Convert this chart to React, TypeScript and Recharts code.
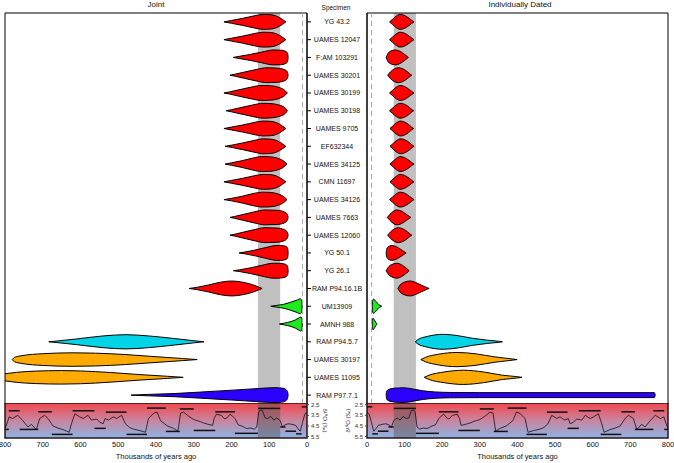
import React from 'react';
import { ComposedChart, Area, Line, XAxis, YAxis, ReferenceArea, ReferenceLine, Label } from 'recharts';

type Pt = [number, number];

const specimens = [
  'YG 43.2', 'UAMES 12047', 'F:AM 103291', 'UAMES 30201', 'UAMES 30199', 'UAMES 30198',
  'UAMES 9705', 'EF632344', 'UAMES 34125', 'CMN 11697', 'UAMES 34126', 'UAMES 7663',
  'UAMES 12060', 'YG 50.1', 'YG 26.1', 'RAM P94.16.1B', 'UM13909', 'AMNH 988',
  'RAM P94.5.7', 'UAMES 30197', 'UAMES 11095', 'RAM P97.7.1',
];
const rowIdx = specimens.map((_, i) => i);

const RED = '#ff0000';
const GREEN = '#1eea1e';
const CYAN = '#00d4e6';
const ORANGE = '#ffaa00';
const BLUE = '#2b00ff';
const rowColors = [
  RED, RED, RED, RED, RED, RED, RED, RED, RED, RED, RED, RED, RED, RED, RED, RED,
  GREEN, GREEN, CYAN, ORANGE, ORANGE, BLUE,
];

// [age (ka), half width in rows]
const jointShapes: Pt[][] = [
  [[56, 0], [65, 0.14], [80, 0.32], [100, 0.41], [116, 0.42], [140, 0.34], [170, 0.2], [200, 0.08], [220, 0]],
  [[56, 0], [65, 0.14], [80, 0.32], [100, 0.41], [116, 0.42], [140, 0.34], [170, 0.2], [200, 0.08], [220, 0]],
  [[50, 0], [51, 0.2], [56, 0.34], [70, 0.41], [90, 0.42], [120, 0.3], [150, 0.17], [180, 0.06], [195, 0]],
  [[50, 0], [52, 0.18], [60, 0.32], [80, 0.4], [106, 0.42], [135, 0.32], [165, 0.18], [190, 0.06], [204, 0]],
  [[52, 0], [58, 0.13], [75, 0.32], [100, 0.41], [120, 0.42], [150, 0.32], [180, 0.18], [205, 0.06], [220, 0]],
  [[52, 0], [57, 0.14], [75, 0.33], [100, 0.41], [116, 0.42], [145, 0.32], [175, 0.18], [200, 0.06], [214, 0]],
  [[56, 0], [65, 0.14], [80, 0.32], [100, 0.41], [116, 0.42], [140, 0.34], [170, 0.2], [200, 0.08], [220, 0]],
  [[56, 0], [65, 0.14], [80, 0.32], [100, 0.41], [116, 0.42], [140, 0.33], [170, 0.19], [198, 0.07], [217, 0]],
  [[53, 0], [60, 0.14], [78, 0.33], [100, 0.41], [120, 0.42], [145, 0.33], [172, 0.19], [200, 0.07], [217, 0]],
  [[56, 0], [65, 0.14], [80, 0.32], [100, 0.41], [116, 0.42], [140, 0.34], [170, 0.2], [200, 0.08], [220, 0]],
  [[53, 0], [60, 0.14], [78, 0.33], [100, 0.41], [118, 0.42], [145, 0.33], [172, 0.19], [200, 0.07], [220, 0]],
  [[50, 0], [52, 0.16], [60, 0.31], [80, 0.4], [111, 0.42], [140, 0.31], [170, 0.16], [192, 0.05], [204, 0]],
  [[50, 0], [52, 0.16], [60, 0.31], [80, 0.4], [111, 0.42], [140, 0.31], [170, 0.16], [192, 0.05], [204, 0]],
  [[50, 0], [51, 0.25], [56, 0.37], [70, 0.42], [80, 0.42], [110, 0.3], [140, 0.15], [165, 0.05], [180, 0]],
  [[50, 0], [51, 0.22], [57, 0.36], [75, 0.42], [90, 0.42], [120, 0.3], [150, 0.16], [178, 0.05], [195, 0]],
  [[119, 0], [130, 0.1], [150, 0.25], [175, 0.37], [200, 0.42], [230, 0.35], [260, 0.2], [290, 0.07], [312, 0]],
  [[13, 0], [13.5, 0.3], [18, 0.42], [25, 0.36], [40, 0.25], [60, 0.12], [80, 0.05], [96, 0]],
  [[12.5, 0], [13, 0.25], [16, 0.4], [20, 0.36], [30, 0.24], [45, 0.12], [60, 0.05], [73, 0]],
  [[273, 0], [300, 0.06], [350, 0.18], [420, 0.33], [480, 0.4], [540, 0.33], [610, 0.16], [660, 0.05], [684, 0]],
  [[291, 0], [330, 0.06], [400, 0.16], [480, 0.28], [560, 0.36], [620, 0.38], [700, 0.33], [755, 0.22], [775, 0.12], [781, 0]],
  [[328, 0], [370, 0.06], [440, 0.15], [520, 0.27], [600, 0.36], [650, 0.38], [720, 0.35], [770, 0.28], [800, 0.2]],
  [[50, 0], [52, 0.22], [62, 0.38], [85, 0.42], [130, 0.37], [196, 0.28], [283, 0.17], [350, 0.09], [420, 0.04], [466, 0]],
];

const datedShapes: Pt[][] = [
  [[60, 0], [68, 0.15], [78, 0.33], [88, 0.42], [100, 0.36], [112, 0.2], [120, 0.07], [125, 0]],
  [[60, 0], [68, 0.15], [78, 0.33], [88, 0.42], [100, 0.36], [112, 0.2], [120, 0.07], [125, 0]],
  [[51, 0], [55, 0.2], [63, 0.36], [75, 0.42], [88, 0.34], [100, 0.17], [107, 0.05], [110, 0]],
  [[55, 0], [62, 0.18], [72, 0.35], [83, 0.42], [96, 0.35], [108, 0.18], [115, 0.06], [119, 0]],
  [[60, 0], [68, 0.15], [78, 0.33], [88, 0.42], [100, 0.36], [112, 0.2], [120, 0.07], [125, 0]],
  [[60, 0], [68, 0.15], [78, 0.33], [88, 0.42], [100, 0.36], [112, 0.2], [119, 0.07], [124, 0]],
  [[61, 0], [69, 0.15], [79, 0.33], [89, 0.42], [100, 0.36], [112, 0.2], [119, 0.07], [124, 0]],
  [[61, 0], [69, 0.15], [79, 0.33], [89, 0.42], [101, 0.36], [113, 0.2], [120, 0.07], [125, 0]],
  [[61, 0], [69, 0.15], [79, 0.33], [88, 0.42], [100, 0.36], [112, 0.2], [120, 0.07], [125, 0]],
  [[61, 0], [69, 0.15], [79, 0.33], [88, 0.42], [100, 0.36], [112, 0.2], [120, 0.07], [125, 0]],
  [[60, 0], [68, 0.15], [78, 0.33], [88, 0.42], [100, 0.36], [112, 0.2], [120, 0.07], [125, 0]],
  [[54, 0], [61, 0.17], [70, 0.34], [79, 0.42], [92, 0.35], [104, 0.18], [112, 0.06], [117, 0]],
  [[55, 0], [62, 0.17], [72, 0.34], [83, 0.42], [96, 0.35], [108, 0.18], [115, 0.06], [119, 0]],
  [[51, 0], [52, 0.2], [56, 0.34], [66, 0.42], [78, 0.35], [90, 0.2], [99, 0.07], [104, 0]],
  [[51, 0], [56, 0.18], [66, 0.35], [79, 0.42], [92, 0.33], [104, 0.15], [110, 0.04], [112, 0]],
  [[82, 0], [88, 0.2], [100, 0.36], [115, 0.42], [130, 0.33], [145, 0.18], [158, 0.06], [165, 0]],
  [[14, 0], [14.5, 0.28], [17, 0.4], [21, 0.34], [27, 0.18], [33, 0.07], [39, 0]],
  [[14, 0], [14.5, 0.22], [16, 0.33], [19, 0.25], [23, 0.1], [27, 0]],
  [[128, 0], [135, 0.12], [160, 0.3], [203, 0.42], [240, 0.35], [280, 0.2], [320, 0.09], [350, 0.03], [360, 0]],
  [[143, 0], [155, 0.12], [190, 0.3], [239, 0.4], [290, 0.32], [340, 0.15], [380, 0.05], [399, 0]],
  [[152, 0], [165, 0.12], [205, 0.3], [256, 0.4], [310, 0.3], [360, 0.12], [398, 0.04], [412, 0]],
  [[51, 0], [52, 0.22], [60, 0.34], [80, 0.4], [100, 0.41], [125, 0.33], [150, 0.24], [180, 0.18], [220, 0.15], [300, 0.14], [500, 0.14], [764, 0.14], [766, 0]],
];

const warmBand = [71, 130];
const dashedAge = 12;

// benthic d18O stack
const d18oAge = [
  0, 6, 12, 18, 24, 30, 40, 50, 58, 65, 71, 80, 88, 96, 104, 111, 118, 124, 128, 133,
  140, 150, 160, 170, 182, 191, 198, 204, 212, 218, 227, 240, 246, 250, 262, 276, 282, 291, 300, 313,
  327, 335, 342, 353, 370, 388, 397, 406, 420, 428, 442, 460, 470, 481, 491, 504, 513, 526, 535, 540,
  549, 557, 571, 580, 593, 602, 615, 624, 630, 646, 660, 673, 686, 695, 708, 717, 730, 739, 753, 766,
  780, 789, 797, 800,
];
const d18oValue = [
  3.2, 3.4, 4.2, 5.0, 4.75, 4.45, 4.35, 4.3, 4.4, 4.6, 4.0, 3.75, 3.95, 3.6, 3.8, 3.75, 3.05, 3.0, 3.2, 4.6,
  4.8, 4.7, 4.75, 4.55, 4.4, 3.8, 3.55, 3.4, 3.75, 3.85, 3.5, 3.4, 3.8, 4.45, 4.35, 4.2, 4.1, 4.0, 3.9, 3.6,
  3.2, 3.3, 5.0, 4.75, 4.5, 4.0, 3.2, 3.3, 3.8, 5.1, 4.95, 4.8, 4.65, 4.3, 3.5, 3.8, 3.65, 3.95, 3.8, 4.3,
  4.15, 3.85, 3.95, 3.5, 3.8, 3.65, 3.35, 4.3, 5.1, 4.85, 4.7, 4.5, 3.8, 3.5, 3.8, 4.85, 4.35, 4.6, 4.0, 3.5,
  3.8, 3.65, 4.5, 4.7,
];

// marine isotope stage bars
const stageStart = [0, 14, 29, 57, 71, 130, 191, 243, 300, 337, 374, 424, 478, 533, 563, 621, 676, 712, 761, 790];
const stageEnd = [14, 29, 57, 71, 130, 191, 243, 300, 337, 374, 424, 478, 533, 563, 621, 676, 712, 761, 790, 800];
const stageLevel = [2.7, 5.25, 5.0, 4.6, 2.85, 5.2, 3.17, 4.93, 2.9, 5.02, 2.82, 5.3, 3.2, 4.73, 3.07, 5.3, 3.17, 4.83, 3.07, 4.83];

const ageTicks = [0, 100, 200, 300, 400, 500, 600, 700, 800];
const d18oTicks = [2.5, 3.5, 4.5, 5.5];

const FONT = '"Liberation Sans", Arial, sans-serif';
const TEXT = '#111';
const ROW_DOMAIN: [number, number] = [-0.5, 21.5];
const D18O_DOMAIN: [number, number] = [2.34, 5.64];

const d18oData = d18oAge.map((age, i) => ({ age, d18o: d18oValue[i] }));

const violins = (shapes: Pt[][]) =>
  shapes.map((shape, row) => (
    <Area
      key={`v-${row}`}
      data={shape.map(([age, hw]) => ({ age, band: [row - hw, row + hw] }))}
      dataKey="band"
      type="monotone"
      stroke="#000"
      strokeWidth={1}
      fill={rowColors[row]}
      fillOpacity={1}
      dot={false}
      activeDot={false}
      isAnimationActive={false}
    />
  ));

const stageLines = () =>
  stageStart.map((s, i) => (
    <ReferenceLine
      key={`s-${i}`}
      segment={[{ x: s, y: stageLevel[i] }, { x: stageEnd[i], y: stageLevel[i] }]}
      stroke="#111"
      strokeWidth={1.5}
    />
  ));

const SpecimenTick = (props: any) => {
  const { x, y, payload } = props;
  return (
    <text x={x + 24} y={y} dy={2.5} textAnchor="middle" fontSize={7} fill={TEXT} fontFamily={FONT}>
      {specimens[payload.value]}
    </text>
  );
};

const ClimateGradient = ({ id }: { id: string }) => (
  <defs>
    <linearGradient id={id} x1="0" y1="0" x2="0" y2="1">
      <stop offset="0%" stopColor="#f2474c" />
      <stop offset="50%" stopColor="#c9859f" />
      <stop offset="100%" stopColor="#8cb3e6" />
    </linearGradient>
  </defs>
);

const ViolinPanel = ({ shapes, side }: { shapes: Pt[][]; side: 'left' | 'right' }) => {
  const isLeft = side === 'left';
  return (
    <ComposedChart
      width={isLeft ? 367 : 334}
      height={404}
      margin={isLeft ? { top: 13, right: 0, bottom: 0, left: 5 } : { top: 13, right: 6, bottom: 0, left: 0 }}
    >
      <XAxis type="number" dataKey="age" domain={[0, 800]} reversed={isLeft} hide allowDataOverflow />
      {isLeft ? (
        <YAxis
          type="number"
          orientation="right"
          domain={ROW_DOMAIN}
          reversed
          ticks={rowIdx}
          interval={0}
          width={60}
          tickSize={4}
          stroke="#000"
          tick={<SpecimenTick />}
          allowDataOverflow
        />
      ) : (
        <YAxis
          type="number"
          orientation="left"
          domain={ROW_DOMAIN}
          reversed
          ticks={rowIdx}
          interval={0}
          width={27}
          tickSize={3}
          stroke="#000"
          tick={false}
          allowDataOverflow
        />
      )}
      <ReferenceArea x1={warmBand[0]} x2={warmBand[1]} fill="#c0c0c0" fillOpacity={1} stroke="none" />
      <ReferenceLine x={dashedAge} stroke="#aaa" strokeDasharray="5 4" strokeWidth={1} />
      {violins(shapes)}
      <ReferenceArea x1={0} x2={800} y1={ROW_DOMAIN[0]} y2={ROW_DOMAIN[1]} fill="none" stroke="#000" strokeWidth={1} />
    </ComposedChart>
  );
};

const ClimatePanel = ({ side }: { side: 'left' | 'right' }) => {
  const isLeft = side === 'left';
  const gid = `clim-${side}`;
  return (
    <ComposedChart
      width={isLeft ? 367 : 334}
      height={60}
      data={d18oData}
      margin={isLeft ? { top: 0, right: 0, bottom: 0, left: 5 } : { top: 0, right: 6, bottom: 0, left: 0 }}
    >
      <ClimateGradient id={gid} />
      <XAxis
        type="number"
        dataKey="age"
        domain={[0, 800]}
        reversed={isLeft}
        ticks={ageTicks}
        interval={0}
        height={25}
        tickLine={false}
        tickSize={0}
        axisLine={false}
        tickMargin={4}
        tick={{ fontSize: 7.5, fill: TEXT, fontFamily: FONT }}
        allowDataOverflow
      >
        <Label value="Thousands of years ago" position="insideBottom" offset={4} fontSize={7.5} fill={TEXT} fontFamily={FONT} />
      </XAxis>
      <YAxis
        type="number"
        orientation={isLeft ? 'right' : 'left'}
        domain={D18O_DOMAIN}
        reversed
        ticks={d18oTicks}
        interval={0}
        width={isLeft ? 60 : 27}
        tickSize={2}
        tickMargin={2}
        axisLine={false}
        stroke="#444"
        tickFormatter={(v: number) => v.toFixed(1)}
        tick={{ fontSize: 6, fill: '#333', fontFamily: FONT }}
        allowDataOverflow
      >
        <Label
          value="δ¹⁸O (‰)"
          angle={isLeft ? 90 : -90}
          position="center"
          dx={isLeft ? -12 : -6}
          fontSize={6}
          fill="#333"
          fontFamily={FONT}
        />
      </YAxis>
      <ReferenceArea x1={0} x2={800} y1={D18O_DOMAIN[0]} y2={D18O_DOMAIN[1]} fill={`url(#${gid})`} fillOpacity={1} stroke="none" />
      <ReferenceArea x1={warmBand[0]} x2={warmBand[1]} y1={D18O_DOMAIN[0]} y2={D18O_DOMAIN[1]} fill="#555" fillOpacity={0.45} stroke="none" />
      <Line dataKey="d18o" type="linear" stroke="#111" strokeWidth={0.8} dot={false} activeDot={false} isAnimationActive={false} />
      {stageLines()}
      <ReferenceArea x1={0} x2={800} y1={D18O_DOMAIN[0]} y2={D18O_DOMAIN[1]} fill="none" stroke="#2a1515" strokeWidth={1.5} />
    </ComposedChart>
  );
};

const titleStyle: React.CSSProperties = {
  position: 'absolute',
  fontFamily: FONT,
  color: TEXT,
  textAlign: 'center',
  whiteSpace: 'nowrap',
};

export default function App() {
  return (
    <div style={{ position: 'absolute', left: 0, top: 0, width: 674, height: 463, background: '#fff', fontFamily: FONT }}>
      <div style={{ ...titleStyle, left: 106, width: 100, top: 0, fontSize: 8, lineHeight: '10px' }}>Joint</div>
      <div style={{ ...titleStyle, left: 420, width: 200, top: 0, fontSize: 8, lineHeight: '10px' }}>Individually Dated</div>
      <div style={{ ...titleStyle, left: 306, width: 60, top: 3, fontSize: 6.5, lineHeight: '9px' }}>Specimen</div>
      <div style={{ position: 'absolute', left: 0, top: 0 }}>
        <ViolinPanel shapes={jointShapes} side="left" />
      </div>
      <div style={{ position: 'absolute', left: 340, top: 0 }}>
        <ViolinPanel shapes={datedShapes} side="right" />
      </div>
      <div style={{ position: 'absolute', left: 0, top: 403 }}>
        <ClimatePanel side="left" />
      </div>
      <div style={{ position: 'absolute', left: 340, top: 403 }}>
        <ClimatePanel side="right" />
      </div>
    </div>
  );
}
